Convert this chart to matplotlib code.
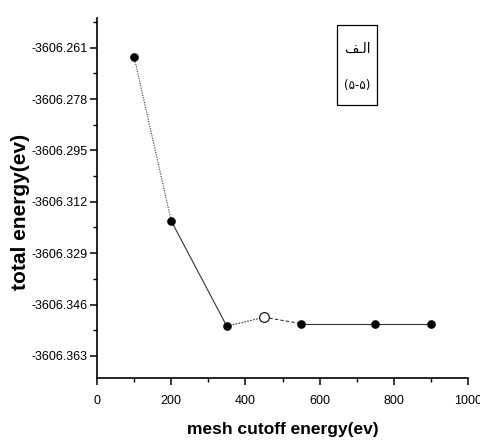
import numpy as np
import matplotlib
matplotlib.use("Agg")
import matplotlib.pyplot as plt
from matplotlib.patches import Rectangle
from matplotlib.ticker import MultipleLocator, FormatStrFormatter


# Data
cutoff = [100, 200, 350, 450, 550, 750, 900]
energy = [-3606.264, -3606.3183, -3606.3532, -3606.3502, -3606.3523, -3606.3523, -3606.3523]
open_point = [False, False, False, True, False, False, False]

yticks = [-3606.261, -3606.278, -3606.295, -3606.312, -3606.329, -3606.346, -3606.363]
box_title = "\uFED2\u0640\uFEDF\uFE8D"   # "الـف" in shaped visual order
box_sub = "(\u06F5-\u06F5)"


def segment_styles():
    """line style of each segment between two neighbouring points"""
    return [(0, (1, 1.2)), '-', (0, (1.5, 1.2)), (0, (3, 2)), '-', '-']


def main():
    plt.rcParams['font.family'] = ['Liberation Sans', 'DejaVu Sans']
    fig = plt.figure(figsize=(4.81, 4.42), dpi=100)
    ax = fig.add_axes([97 / 481, 1 - 378 / 442, 371 / 481, 360 / 442])

    # segments, each with its own dash pattern
    for i, ls in enumerate(segment_styles()):
        ax.plot(cutoff[i:i + 2], energy[i:i + 2], color='#333333', linestyle=ls, linewidth=0.8)

    x = np.array(cutoff)
    y = np.array(energy)
    mask = np.array(open_point)
    ax.plot(x[~mask], y[~mask], 'o', color='black', markersize=5.2, zorder=3)
    ax.plot(x[mask], y[mask], 'o', markerfacecolor='white', markeredgecolor='black',
            markersize=7, markeredgewidth=0.8, zorder=3)

    ax.set_xlim(0, 1000)
    ax.set_ylim(-3606.3703, -3606.2512)
    ax.set_yticks(yticks)
    ax.yaxis.set_minor_locator(MultipleLocator(0.0085))
    ax.yaxis.set_major_formatter(FormatStrFormatter('%.3f'))
    ax.xaxis.set_major_locator(MultipleLocator(200))
    ax.xaxis.set_minor_locator(MultipleLocator(100))

    for side in ['top', 'right']:
        ax.spines[side].set_visible(False)
    for side in ['left', 'bottom']:
        ax.spines[side].set_linewidth(1.2)

    ax.tick_params(which='major', direction='out', length=5, width=1.1)
    ax.tick_params(which='minor', direction='out', length=3, width=1.0)
    ax.tick_params(axis='y', labelsize=9, pad=2)
    ax.tick_params(axis='x', labelsize=9, pad=7)

    ax.set_xlabel("mesh cutoff energy(ev)", fontsize=12.5, fontweight='bold', labelpad=11)
    # y label sits a little below the axes centre in the reference
    fig.text(21 / 481, 1 - 212 / 442, "total energy(ev)", rotation=90,
             ha='center', va='center', fontsize=15, fontweight='bold')

    # framed label box in the upper right
    fig.patches.append(Rectangle((337 / 481, 1 - 105 / 442), 40 / 481, 80 / 442,
                                 transform=fig.transFigure, fill=False,
                                 edgecolor='black', linewidth=0.9))
    fig.text(357 / 481, 1 - 49 / 442, box_title, ha='center', va='center',
             fontsize=10, family=['DejaVu Sans'])
    fig.text(357 / 481, 1 - 85 / 442, box_sub, ha='center', va='center',
             fontsize=8.5, family=['DejaVu Sans'])

    fig.savefig("out.png", dpi=100)


if __name__ == '__main__':
    main()
